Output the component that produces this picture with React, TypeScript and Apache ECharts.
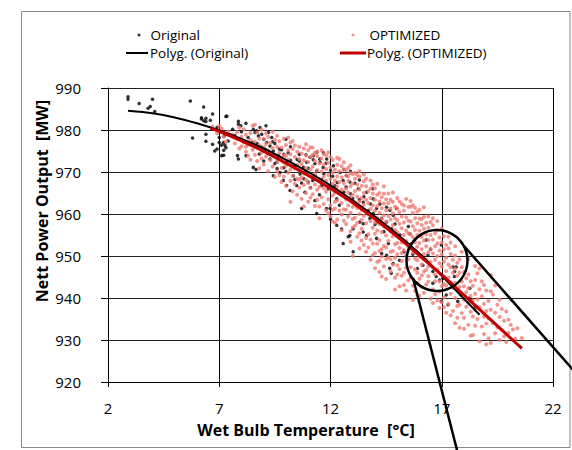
import { useEffect, useRef } from "react";
import * as echarts from "echarts";

const xTickMin = 2;
const xTickMax = 22;
const xTickStep = 5;
const yTickMin = 920;
const yTickMax = 990;
const yTickStep = 10;

const originalPoints: number[][] = [
  [2.9, 987.9], [2.9, 987.3], [3.4, 986.3], [4.0, 987.3], [3.8, 985.2], [3.9, 985.6], [4.1, 984.4],
  [5.7, 986.9], [6.3, 985.5], [6.7, 983.8], [6.2, 982.6], [6.3, 982.2], [6.4, 982.0], [6.4, 982.8], [6.6, 982.3],
  [7.3, 983.2], [6.9, 980.6], [5.8, 978.1], [6.4, 979.0], [6.4, 977.3], [6.7, 976.6], [6.9, 975.5], [6.8, 975.0],
  [7.0, 977.0], [7.1, 976.4], [7.3, 975.8], [7.2, 975.2], [7.4, 977.4], [7.2, 974.0], [6.2, 982.9], [7.0, 978.2],
  [7.34, 983.3], [7.86, 982.1], [7.86, 981.4], [7.97, 981.0], [7.22, 978.6], [7.19, 977.0], [7.25, 976.4],
  [7.11, 973.9], [7.82, 973.9], [7.86, 973.1], [8.21, 973.9], [8.53, 971.1], [8.65, 970.6], [8.53, 980.2],
  [8.68, 979.8], [8.83, 980.6], [8.91, 979.0], [8.76, 978.6], [8.61, 979.4], [9.0, 977.8], [9.13, 977.0],
  [9.28, 976.2], [9.06, 975.4], [9.36, 978.2], [9.21, 979.4], [9.43, 975.0], [9.28, 973.1], [9.58, 972.3],
  [9.73, 969.9], [9.43, 969.1], [9.88, 968.0], [10.03, 966.8], [10.18, 965.6], [10.48, 966.8], [10.33, 969.1],
  [10.63, 969.5], [10.78, 971.1], [10.93, 972.3], [11.08, 973.5], [11.23, 973.9], [11.38, 974.7], [11.52, 973.1],
  [11.67, 971.1], [11.3, 969.1], [11.0, 967.6], [10.85, 965.2], [10.4, 971.5], [10.03, 972.3], [9.66, 973.9],
  [10.7, 961.3], [11.38, 960.1], [11.82, 961.3],
  [9.5, 976.8], [9.8, 975.3], [10.1, 974.6], [10.2, 976.0], [10.6, 974.2], [10.9, 970.2], [9.9, 971.0],
  [10.5, 973.0], [8.4, 976.6], [8.9, 975.9], [9.6, 970.8], [10.8, 968.4], [11.1, 966.3], [11.6, 968.2],
  [11.23, 972.9], [11.53, 972.3], [11.83, 973.1], [12.13, 971.5], [12.43, 969.9], [12.72, 969.1], [12.87, 967.6],
  [12.57, 968.0], [11.68, 974.6], [11.38, 970.3], [11.6, 966.8], [11.9, 966.0], [12.28, 963.6], [11.98, 961.3],
  [12.28, 957.3], [12.57, 953.0], [13.02, 951.0], [12.8, 954.6], [13.02, 956.5], [13.32, 958.1], [13.47, 957.7],
  [13.77, 958.9], [13.92, 960.1], [14.07, 961.3], [14.22, 962.4], [14.52, 961.6], [14.67, 960.9], [14.82, 959.7],
  [14.97, 961.3], [13.92, 963.6], [13.47, 962.8], [13.17, 962.0], [13.62, 965.2], [13.25, 966.0], [14.52, 958.1],
  [14.74, 956.5], [15.12, 955.0], [15.34, 953.4], [12.87, 954.9], [14.07, 954.2], [14.3, 950.6], [14.52, 950.2],
  [13.47, 955.7], [13.62, 954.9],
  [12.3, 967.5], [12.6, 965.2], [13.0, 963.7], [13.4, 961.2], [13.8, 962.4], [14.3, 959.0], [12.1, 969.0],
  [12.9, 970.2], [13.3, 968.1], [14.0, 957.5],
  [14.66, 947.1], [14.81, 948.2], [14.73, 945.9], [15.56, 955.3], [16.3, 953.8], [16.38, 950.2], [16.98, 952.6],
  [16.6, 946.3], [16.75, 945.1], [16.9, 944.3], [17.05, 944.7], [16.6, 943.5], [16.98, 939.2], [17.28, 938.4],
  [17.72, 939.2], [17.87, 940.7], [17.2, 940.7], [16.15, 947.8], [16.0, 950.2], [17.65, 947.4], [17.57, 945.1],
  [18.25, 940.0], [18.47, 937.6], [15.3, 951.0], [15.7, 950.4], [15.9, 947.0], [15.5, 957.0],
  [17.58, 946.3], [17.81, 941.5], [18.26, 942.3], [18.33, 939.5], [18.56, 938.0], [17.51, 947.4],
  [7.6, 980.2], [7.7, 978.7], [8.0, 979.6], [8.1, 977.4], [8.3, 978.2], [8.5, 977.0], [8.7, 976.8], [8.8, 974.3],
  [9.0, 972.6], [9.2, 974.4], [9.4, 977.2], [9.5, 972.0], [9.7, 975.5], [9.9, 974.2], [10.0, 970.1], [10.2, 972.8],
  [10.4, 968.2], [10.6, 972.6], [10.7, 967.4], [10.9, 974.1], [11.0, 970.9], [11.2, 968.0], [11.3, 972.0],
  [11.5, 964.6], [11.7, 969.6], [11.8, 972.1], [12.0, 970.4], [12.2, 966.7], [12.4, 962.1], [12.6, 970.6],
  [12.7, 966.4], [12.9, 964.8], [13.1, 967.3], [13.3, 963.4], [13.5, 964.1], [13.7, 960.8], [13.9, 966.0],
  [14.1, 958.1], [14.4, 955.8], [14.6, 953.0], [14.9, 957.6], [15.1, 949.0], [15.6, 952.8], [16.2, 949.3],
  [16.5, 951.6], [8.2, 981.6], [9.1, 981.0], [10.0, 977.8], [11.3, 963.2], [12.0, 958.8], [12.5, 956.4],
];

const optimizedPoints: number[][] = [
  [6.7, 980.8], [6.9, 979.2], [7.1, 980.3], [7.2, 978.4], [7.4, 979.6], [7.3, 977.2], [7.5, 978.8], [7.0, 981.0],
  [7.6, 978.9], [7.7, 976.8], [7.8, 979.5], [7.8, 977.9], [7.9, 975.6], [8.0, 978.4], [8.0, 976.1], [8.1, 980.2],
  [8.1, 977.0], [8.2, 974.8], [8.2, 978.9], [8.3, 976.5], [8.3, 973.9], [8.4, 979.3], [8.4, 977.6], [8.5, 975.3],
  [8.5, 981.0], [7.9, 980.6], [8.2, 976.0], [8.4, 972.9],
  [8.6, 981.3], [8.6, 977.2], [8.6, 974.1], [8.7, 979.4], [8.7, 975.8], [8.7, 972.6], [8.8, 978.0], [8.8, 976.4],
  [8.8, 970.9], [8.9, 980.1], [8.9, 974.6], [8.9, 973.2], [9.0, 977.9], [9.0, 975.9], [9.0, 971.8], [9.1, 979.2],
  [9.1, 976.7], [9.1, 973.7], [9.2, 975.1], [9.2, 970.2], [9.2, 978.4], [9.3, 976.9], [9.3, 972.8], [9.3, 974.3],
  [9.4, 979.6], [9.4, 975.7], [9.4, 971.3], [9.5, 977.6], [9.5, 973.9], [9.5, 968.8],
  [9.6, 978.6], [9.6, 976.0], [9.6, 972.4], [9.6, 970.1], [9.7, 977.3], [9.7, 974.5], [9.7, 969.2], [9.8, 975.8],
  [9.8, 973.3], [9.8, 971.0], [9.8, 967.6], [9.9, 977.9], [9.9, 974.0], [9.9, 972.2], [9.9, 968.9], [10.0, 976.4],
  [10.0, 973.8], [10.0, 971.5], [10.0, 966.7], [10.1, 975.1], [10.1, 972.9], [10.1, 969.8], [10.2, 977.0],
  [10.2, 974.2], [10.2, 970.6], [10.2, 967.9], [10.3, 975.5], [10.3, 972.0], [10.3, 969.1], [10.3, 965.4],
  [10.4, 976.3], [10.4, 973.6], [10.4, 970.8], [10.4, 967.2], [10.5, 974.8], [10.5, 971.7], [10.5, 968.4],
  [10.5, 964.6], [10.1, 978.2], [10.3, 977.4],
  [10.6, 976.0], [10.6, 973.1], [10.6, 970.3], [10.6, 966.3], [10.7, 974.4], [10.7, 971.9], [10.7, 968.7],
  [10.7, 963.6], [10.8, 975.6], [10.8, 972.8], [10.8, 969.6], [10.8, 966.9], [10.9, 973.9], [10.9, 970.9],
  [10.9, 968.1], [10.9, 965.0], [11.0, 975.2], [11.0, 972.4], [11.0, 969.9], [11.0, 967.4], [11.0, 962.9],
  [11.1, 973.5], [11.1, 970.6], [11.1, 966.2], [11.2, 974.1], [11.2, 971.3], [11.2, 968.8], [11.2, 964.7],
  [11.3, 972.7], [11.3, 969.5], [11.3, 967.0], [11.3, 961.9], [11.4, 973.8], [11.4, 970.4], [11.4, 965.8],
  [11.4, 963.4], [11.5, 972.0], [11.5, 968.3], [11.5, 966.5], [11.5, 961.8], [10.9, 976.6], [11.2, 975.8],
  [11.4, 974.9], [11.1, 963.9], [10.6, 968.2],
  [11.6, 973.2], [11.6, 970.1], [11.6, 967.5], [11.6, 964.0], [11.7, 971.8], [11.7, 968.9], [11.7, 966.1],
  [11.7, 962.4], [11.8, 974.0], [11.8, 970.7], [11.8, 967.9], [11.8, 965.3], [11.8, 960.9], [11.9, 972.2],
  [11.9, 969.3], [11.9, 966.7], [11.9, 963.5], [12.0, 971.1], [12.0, 968.4], [12.0, 965.9], [12.0, 962.1],
  [12.0, 959.4], [12.1, 972.9], [12.1, 969.8], [12.1, 967.2], [12.1, 964.4], [12.2, 970.6], [12.2, 968.0],
  [12.2, 965.1], [12.2, 961.3], [12.3, 971.7], [12.3, 969.0], [12.3, 966.5], [12.3, 963.2], [12.3, 958.7],
  [12.4, 970.2], [12.4, 967.6], [12.4, 964.9], [12.4, 960.8], [12.5, 971.4], [12.5, 968.7], [12.5, 965.8],
  [12.5, 962.6], [12.5, 959.9], [11.9, 960.2], [12.2, 957.9], [12.4, 973.1], [11.7, 974.3], [12.0, 973.6],
  [12.2, 962.9],
  [12.6, 970.6], [12.6, 967.3], [12.6, 964.2], [12.6, 961.1], [12.7, 969.2], [12.7, 966.0], [12.7, 963.5],
  [12.7, 957.6], [12.8, 971.0], [12.8, 967.9], [12.8, 965.1], [12.8, 962.0], [12.8, 959.4], [12.9, 969.7],
  [12.9, 966.6], [12.9, 963.9], [12.9, 960.3], [13.0, 969.5], [13.0, 967.2], [13.0, 964.6], [13.0, 961.7],
  [13.0, 956.8], [13.1, 968.4], [13.1, 965.5], [13.1, 962.8], [13.1, 959.1], [13.2, 967.0], [13.2, 964.1],
  [13.2, 961.5], [13.2, 957.9], [13.3, 968.9], [13.3, 965.9], [13.3, 963.0], [13.3, 960.0], [13.3, 955.4],
  [13.4, 966.7], [13.4, 963.8], [13.4, 961.0], [13.4, 958.6], [13.5, 967.8], [13.5, 965.0], [13.5, 962.2],
  [13.5, 959.6], [13.5, 952.6], [12.9, 955.9], [13.2, 954.6], [13.4, 956.5], [12.7, 961.0], [13.0, 958.8],
  [13.1, 969.8], [12.6, 958.4], [13.3, 951.8], [13.4, 953.7], [12.8, 969.0], [13.2, 969.3],
  [13.6, 966.6], [13.6, 963.4], [13.6, 960.7], [13.6, 957.8], [13.7, 965.4], [13.7, 962.6], [13.7, 959.9],
  [13.7, 955.2], [13.8, 966.1], [13.8, 963.8], [13.8, 961.2], [13.8, 958.3], [13.8, 953.9], [13.9, 964.9],
  [13.9, 962.0], [13.9, 959.3], [13.9, 956.7], [14.0, 963.4], [14.0, 960.8], [14.0, 958.0], [14.0, 955.3],
  [14.0, 950.7], [14.1, 964.6], [14.1, 961.9], [14.1, 959.0], [14.1, 956.1], [14.2, 963.0], [14.2, 960.3],
  [14.2, 957.6], [14.2, 953.8], [14.3, 964.0], [14.3, 961.4], [14.3, 958.8], [14.3, 955.7], [14.3, 945.1],
  [14.4, 962.5], [14.4, 959.7], [14.4, 957.0], [14.4, 952.4], [14.5, 963.5], [14.5, 960.9], [14.5, 958.2],
  [14.5, 954.9], [14.5, 949.3], [13.7, 952.0], [13.9, 950.2], [14.1, 948.6], [14.2, 951.2], [14.4, 947.5],
  [13.6, 954.3], [14.0, 966.1], [14.3, 951.6], [13.9, 967.0], [14.2, 965.0], [14.4, 964.8], [14.5, 952.0],
  [13.8, 949.1], [14.1, 952.9], [14.3, 949.9], [14.0, 947.1],
  [14.6, 962.6], [14.6, 959.5], [14.6, 956.8], [14.6, 953.6], [14.7, 961.3], [14.7, 958.7], [14.7, 955.9],
  [14.7, 951.0], [14.8, 962.9], [14.8, 960.1], [14.8, 957.3], [14.8, 954.7], [14.8, 947.9], [14.9, 961.8],
  [14.9, 959.0], [14.9, 956.2], [14.9, 952.8], [15.0, 961.3], [15.0, 958.5], [15.0, 955.6], [15.0, 950.4],
  [15.0, 945.6], [15.1, 960.4], [15.1, 957.7], [15.1, 954.3], [15.1, 951.9], [15.2, 962.4], [15.2, 959.4],
  [15.2, 956.6], [15.2, 953.2], [15.2, 948.8], [15.3, 960.8], [15.3, 958.0], [15.3, 955.0], [15.3, 951.4],
  [15.4, 959.2], [15.4, 956.0], [15.4, 953.6], [15.4, 947.2], [15.5, 961.7], [15.5, 958.4], [15.5, 955.4],
  [15.5, 952.1], [15.5, 944.2], [14.6, 949.7], [14.7, 946.3], [14.9, 944.8], [15.1, 946.9], [15.3, 943.1],
  [15.0, 953.1], [15.4, 950.3], [14.8, 951.2], [15.2, 945.3], [15.5, 949.2], [14.7, 963.4], [15.3, 962.0],
  [15.1, 963.0], [14.9, 949.6], [15.4, 941.8], [15.0, 947.8],
  [15.6, 961.7], [15.6, 958.2], [15.6, 955.1], [15.6, 951.9], [15.6, 947.3], [15.7, 960.3], [15.7, 957.1],
  [15.7, 954.5], [15.7, 950.8], [15.7, 942.9], [15.8, 959.0], [15.8, 956.2], [15.8, 953.3], [15.8, 949.4],
  [15.9, 960.6], [15.9, 957.8], [15.9, 955.0], [15.9, 952.2], [15.9, 946.0], [16.0, 958.9], [16.0, 956.0],
  [16.0, 953.1], [16.0, 949.9], [16.0, 944.6], [16.1, 957.4], [16.1, 954.6], [16.1, 951.6], [16.1, 948.0],
  [16.2, 959.3], [16.2, 956.5], [16.2, 953.7], [16.2, 950.5], [16.2, 941.2], [16.3, 957.9], [16.3, 955.2],
  [16.3, 952.3], [16.3, 946.7], [16.4, 956.7], [16.4, 953.8], [16.4, 950.9], [16.4, 943.9], [16.5, 958.1],
  [16.5, 955.0], [16.5, 951.7], [16.5, 948.6], [15.6, 944.9], [15.8, 941.7], [16.0, 940.5], [16.3, 943.2],
  [16.1, 945.4], [15.8, 946.8], [16.4, 947.5], [15.9, 949.0], [16.2, 946.3], [15.7, 962.1], [16.0, 961.0],
  [16.5, 939.8], [16.3, 949.1], [15.9, 943.6], [16.1, 958.8],
  [16.6, 957.3], [16.6, 953.9], [16.6, 950.6], [16.6, 947.2], [16.6, 942.0], [16.7, 955.4], [16.7, 952.3],
  [16.7, 949.1], [16.7, 945.6], [16.8, 956.1], [16.8, 953.0], [16.8, 950.0], [16.8, 946.8], [16.8, 939.4],
  [16.9, 954.4], [16.9, 951.3], [16.9, 948.3], [16.9, 944.0], [16.9, 937.6], [17.0, 953.2], [17.0, 950.4],
  [17.0, 947.5], [17.0, 942.8], [17.1, 954.7], [17.1, 951.6], [17.1, 948.7], [17.1, 945.2], [17.1, 940.1],
  [17.2, 952.6], [17.2, 949.6], [17.2, 946.4], [17.2, 943.0], [17.3, 951.8], [17.3, 948.0], [17.3, 944.9],
  [17.3, 938.6], [17.4, 950.5], [17.4, 947.3], [17.4, 943.8], [17.4, 941.0], [17.5, 949.1], [17.5, 946.0],
  [17.5, 942.5], [17.5, 936.9], [16.7, 940.9], [17.0, 939.0], [17.2, 936.5], [16.9, 941.5], [17.4, 935.9],
  [17.1, 943.3],
  [17.6, 950.1], [17.6, 946.9], [17.6, 943.6], [17.6, 940.0], [17.7, 948.4], [17.7, 945.3], [17.7, 941.9],
  [17.7, 935.3], [17.8, 949.2], [17.8, 946.1], [17.8, 942.7], [17.8, 938.4], [17.8, 932.9], [17.9, 947.3],
  [17.9, 943.9], [17.9, 940.9], [17.9, 936.4], [18.0, 946.2], [18.0, 942.8], [18.0, 939.6], [18.0, 935.3],
  [18.1, 951.4], [18.1, 944.7], [18.1, 941.4], [18.1, 937.9], [18.2, 945.6], [18.2, 942.3], [18.2, 938.8],
  [18.2, 933.6], [18.3, 944.0], [18.3, 940.5], [18.3, 936.7], [18.4, 942.9], [18.4, 939.4], [18.4, 935.6],
  [18.4, 931.2], [18.5, 944.3], [18.5, 941.0], [18.5, 937.3], [18.5, 933.4],
  [18.6, 945.9], [18.6, 939.7], [18.6, 935.0], [18.7, 942.1], [18.7, 937.8], [18.7, 929.7], [18.8, 944.0],
  [18.8, 940.4], [18.8, 933.2], [18.9, 938.6], [18.9, 935.6], [18.9, 931.4], [19.0, 941.8], [19.0, 936.9],
  [19.0, 933.9], [19.1, 939.3], [19.1, 935.1], [19.1, 930.4], [19.2, 945.5], [19.2, 937.2], [19.2, 929.3],
  [19.3, 940.8], [19.3, 934.0], [19.4, 936.5], [19.4, 931.6], [19.5, 933.0], [19.5, 938.4],
  [19.6, 930.0], [19.6, 935.5], [19.7, 932.4], [19.8, 934.6], [19.8, 930.9], [19.9, 936.8], [20.0, 931.7],
  [20.1, 933.6], [20.2, 932.5], [20.3, 930.3], [20.6, 930.5], [19.9, 929.5],
  [11.1, 975.9], [11.3, 974.6], [11.6, 975.2], [11.9, 974.7], [12.1, 961.0], [12.3, 973.4], [12.6, 972.3],
  [12.7, 970.5], [12.9, 971.6], [13.1, 957.2], [13.3, 970.2], [13.5, 969.4], [13.6, 968.4], [13.8, 968.0],
  [13.9, 953.0], [14.1, 967.2], [14.2, 948.9], [14.4, 966.6], [14.6, 964.9], [14.7, 949.2], [14.8, 965.1],
  [15.0, 963.8], [15.1, 942.8], [15.3, 946.0], [15.4, 963.6], [15.6, 963.1], [15.8, 961.5], [15.9, 940.8],
  [16.1, 942.6], [16.2, 961.6], [16.4, 959.4], [16.6, 959.0], [16.7, 944.0], [16.8, 958.3], [17.0, 956.5],
  [17.1, 937.8], [17.3, 954.6], [17.4, 953.2], [17.6, 952.3], [17.7, 938.1], [17.9, 951.0], [18.0, 932.7],
  [18.2, 949.3], [18.3, 931.0], [18.5, 947.6], [18.7, 947.0], [18.9, 943.1], [19.0, 929.0], [19.2, 941.6],
  [19.4, 943.0], [19.6, 939.6], [19.7, 937.4], [20.0, 934.8], [20.4, 932.8], [12.1, 958.2], [12.5, 956.1],
  [12.9, 953.4], [13.6, 951.0], [14.9, 942.0], [15.7, 939.5], [16.6, 938.8], [10.2, 962.9], [10.8, 961.8],
  [11.5, 959.0], [13.0, 950.0], [14.2, 946.2], [14.5, 944.5], [15.2, 950.7], [16.4, 945.2], [17.6, 934.0],
];

const originalTrend: number[][] = [
  [2.9, 984.6], [4, 984.0], [5, 983.0], [6, 981.6], [7, 979.9], [8, 977.9], [9, 975.6], [10, 972.9],
  [11, 970.0], [12, 966.8], [13, 963.2], [14, 959.4], [15, 955.2], [16, 950.6], [17, 945.3], [18, 939.8],
  [18.7, 936.0],
];

const optimizedTrend: number[][] = [
  [6.6, 980.4], [7, 979.7], [8, 977.4], [9, 974.9], [10, 972.1], [11, 969.2], [12, 966.1], [13, 962.7],
  [14, 958.8], [15, 954.6], [16, 950.1], [17, 945.5], [18, 940.7], [19, 935.8], [20, 930.9], [20.6, 928.0],
];

const FONT = "'Open Sans', 'Liberation Sans', sans-serif";

export default function App() {
  const ref = useRef<HTMLDivElement>(null);
  useEffect(() => {
    document.body.style.margin = "0";
    const chart = echarts.init(ref.current!, null, { renderer: "svg" });
    const legendText = { fontSize: 13.5, color: "#000", fontFamily: FONT };
    chart.setOption({
      animation: false,
      backgroundColor: "#fff",
      textStyle: { fontFamily: FONT },
      grid: { left: 108, right: 19, top: 88, bottom: 68, containLabel: false },
      legend: [
        {
          data: ["Original"], left: 132.5, top: 23, itemWidth: 3, itemHeight: 3, selectedMode: false,
          textStyle: { ...legendText, padding: [0, 0, 0, 5] },
        },
        {
          data: [{ name: "Polyg. (Original)", icon: "rect" }], left: 121, top: 41, itemWidth: 22, itemHeight: 2,
          selectedMode: false, textStyle: { ...legendText, padding: [0, 0, 0, -3] },
        },
        {
          data: ["OPTIMIZED"], left: 346.5, top: 23, itemWidth: 3, itemHeight: 3, selectedMode: false,
          textStyle: { ...legendText, padding: [0, 0, 0, 10] },
        },
        {
          data: [{ name: "Polyg. (OPTIMIZED)", icon: "rect" }], left: 335, top: 41, itemWidth: 26, itemHeight: 3,
          selectedMode: false, textStyle: { ...legendText, padding: [0, 0, 0, -4] },
        },
      ],
      xAxis: {
        type: "value", min: xTickMin, max: xTickMax, interval: xTickStep,
        axisLine: { show: true, lineStyle: { color: "#000", width: 1 } },
        axisTick: { show: true, length: 5, lineStyle: { color: "#000" } },
        axisLabel: { fontSize: 15, color: "#000", margin: 18, fontFamily: FONT },
        splitLine: { show: true, lineStyle: { color: "#000", width: 1 } },
      },
      yAxis: {
        type: "value", min: yTickMin, max: yTickMax, interval: yTickStep,
        axisLine: { show: true, lineStyle: { color: "#000", width: 1 } },
        axisTick: { show: true, length: 7, lineStyle: { color: "#000" } },
        axisLabel: { fontSize: 15, color: "#000", margin: 27, fontFamily: FONT },
        splitLine: { show: true, lineStyle: { color: "#222", width: 1 } },
      },
      series: [
        {
          name: "Original", type: "scatter", data: originalPoints, symbol: "circle", symbolSize: 3.5,
          itemStyle: { color: "#000" }, z: 2,
        },
        {
          name: "OPTIMIZED", type: "scatter", data: optimizedPoints, symbol: "circle", symbolSize: 4,
          itemStyle: { color: "#F07B72" }, z: 3,
        },
        {
          name: "Polyg. (Original)", type: "line", data: originalTrend, smooth: 0.3, symbol: "none",
          lineStyle: { color: "#000", width: 2 }, itemStyle: { color: "#000" }, z: 4,
        },
        {
          name: "Polyg. (OPTIMIZED)", type: "line", data: optimizedTrend, smooth: 0.3, symbol: "none",
          lineStyle: { color: "#C00000", width: 3 }, itemStyle: { color: "#C00000" }, z: 5,
        },
      ],
      graphic: [
        {
          type: "rect", silent: true, z: -10,
          shape: { x: 21.5, y: 11.5, width: 548.5, height: 436 },
          style: { fill: "none", stroke: "#868686", lineWidth: 1 },
        },
        {
          type: "circle", silent: true, z: 100,
          shape: { cx: 437, cy: 260.5, r: 30.5 },
          style: { fill: "none", stroke: "#000", lineWidth: 2.5 },
        },
        {
          type: "line", silent: true, z: 100,
          shape: { x1: 413, y1: 278, x2: 457.5, y2: 452 },
          style: { stroke: "#000", lineWidth: 2.5 },
        },
        {
          type: "line", silent: true, z: 100,
          shape: { x1: 464, y1: 246, x2: 574, y2: 371 },
          style: { stroke: "#000", lineWidth: 2.5 },
        },
        {
          type: "text", silent: true, z: 100, x: 306, y: 430,
          style: {
            text: "Wet Bulb Temperature  [°C]", fill: "#000", font: `bold 16px ${FONT}`,
            textAlign: "center", textVerticalAlign: "middle",
          },
        },
        {
          type: "text", silent: true, z: 100, x: 42, y: 201, rotation: Math.PI / 2,
          style: {
            text: "Nett Power Output  [MW]", fill: "#000", font: `bold 16px ${FONT}`,
            textAlign: "center", textVerticalAlign: "middle",
          },
        },
      ],
    });
    return () => chart.dispose();
  }, []);
  return <div ref={ref} style={{ width: 572, height: 450 }} />;
}
